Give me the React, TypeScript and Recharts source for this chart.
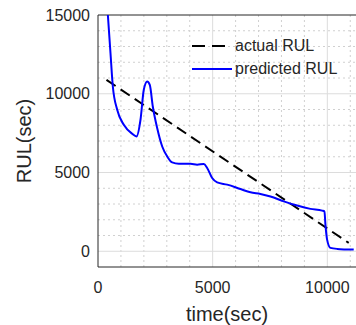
import React from 'react';
import { LineChart, Line, XAxis, YAxis, ReferenceLine, Legend, Label } from 'recharts';

// actual RUL: straight line, time (s) -> RUL (s)
const actualTime = [370, 10933];
const actualRul = [10880, 530];

// predicted RUL
const predTime = [430, 545, 647, 837, 1125, 1490, 1680, 1853, 1997, 2145, 2258, 2390, 2580, 2800, 3016, 3234, 3522, 3814, 4032, 4324, 4612, 4760, 4978, 5196, 5632, 6212, 6648, 7084, 7520, 8100, 8683, 9263, 9773, 9874, 9917, 9990, 10135, 10427, 11151];
const predRul = [15000, 12570, 10460, 8980, 8030, 7460, 7290, 8350, 10250, 10780, 10560, 9190, 7820, 6650, 6020, 5640, 5560, 5560, 5560, 5500, 5540, 5290, 4650, 4370, 4230, 3950, 3740, 3640, 3480, 3170, 2900, 2690, 2580, 2535, 1690, 740, 215, 150, 108];

const xTicks = [0, 5000, 10000];
const yTicks = [0, 5000, 10000, 15000];
const xMinor = [1000, 2000, 3000, 4000, 6000, 7000, 8000, 9000, 11000];
const yMinor = [1000, 2000, 3000, 4000, 6000, 7000, 8000, 9000, 11000, 12000, 13000, 14000];
const xMajor = [5000, 10000];
const yMajor = [0, 5000, 10000];

const actualData = actualTime.map((t, i) => ({ t, v: actualRul[i] }));
const predData = predTime.map((t, i) => ({ t, v: predRul[i] }));

const font = '"Liberation Sans", Arial, sans-serif';
const ink = '#262626';

const LegendBox = ({ payload }: any) => (
  <div style={{ fontFamily: font, fontSize: 16, color: ink }}>
    {(payload || []).map((p: any) => (
      <div key={p.value} style={{ display: 'flex', alignItems: 'center', height: 23 }}>
        <svg width={43} height={10} style={{ display: 'block' }}>
          <line x1={0} y1={5} x2={p.payload.strokeDasharray ? 33 : 40} y2={5}
            stroke={p.color} strokeWidth={2} strokeDasharray={p.payload.strokeDasharray ? '13 7' : undefined} />
        </svg>
        <span>{p.value}</span>
      </div>
    ))}
  </div>
);

export default function App() {
  return (
    <div style={{ position: 'absolute', left: 0, top: 0 }}>
      <LineChart width={356} height={325} margin={{ top: 15, right: 0, bottom: 0, left: 0 }}>
        {xMinor.map(x => (
          <ReferenceLine key={'xm' + x} x={x} stroke="#d0d0d0" strokeDasharray="2 3" />
        ))}
        {yMinor.map(y => (
          <ReferenceLine key={'ym' + y} y={y} stroke="#d0d0d0" strokeDasharray="2 3" />
        ))}
        {xMajor.map(x => (
          <ReferenceLine key={'xM' + x} x={x} stroke="#dcdcdc" />
        ))}
        {yMajor.map(y => (
          <ReferenceLine key={'yM' + y} y={y} stroke="#dcdcdc" />
        ))}
        <ReferenceLine y={15000} stroke={ink} />
        <XAxis type="number" dataKey="t" domain={[0, 11250]} ticks={xTicks} allowDataOverflow
          height={58} stroke={ink} tickLine={false} tickSize={0} tickMargin={15}
          tick={{ fill: ink, fontSize: 16, fontFamily: font }}>
          <Label value="time(sec)" position="center" dy={18}
            style={{ fill: ink, fontSize: 20, fontFamily: font }} />
        </XAxis>
        <YAxis type="number" domain={[-1000, 15000]} ticks={yTicks} allowDataOverflow
          width={98} stroke={ink} tickLine={false} tickSize={0} tickMargin={8}
          tick={{ fill: ink, fontSize: 16, fontFamily: font }}>
          <Label value="RUL(sec)" position="center" angle={-90} dx={-25}
            style={{ fill: ink, fontSize: 20, fontFamily: font, textAnchor: 'middle' }} />
        </YAxis>
        <Line data={actualData} dataKey="v" name="actual RUL" type="linear" stroke="#000000"
          strokeWidth={2} strokeDasharray="11 6" dot={false} isAnimationActive={false} />
        <Line data={predData} dataKey="v" name="predicted RUL" type="monotone" stroke="#0000ff"
          strokeWidth={2} dot={false} isAnimationActive={false} />
        <Legend layout="horizontal" verticalAlign="middle" align="center" content={LegendBox}
          wrapperStyle={{ left: 192, top: 34.5, width: 'auto', height: 'auto' }} />
      </LineChart>
    </div>
  );
}
